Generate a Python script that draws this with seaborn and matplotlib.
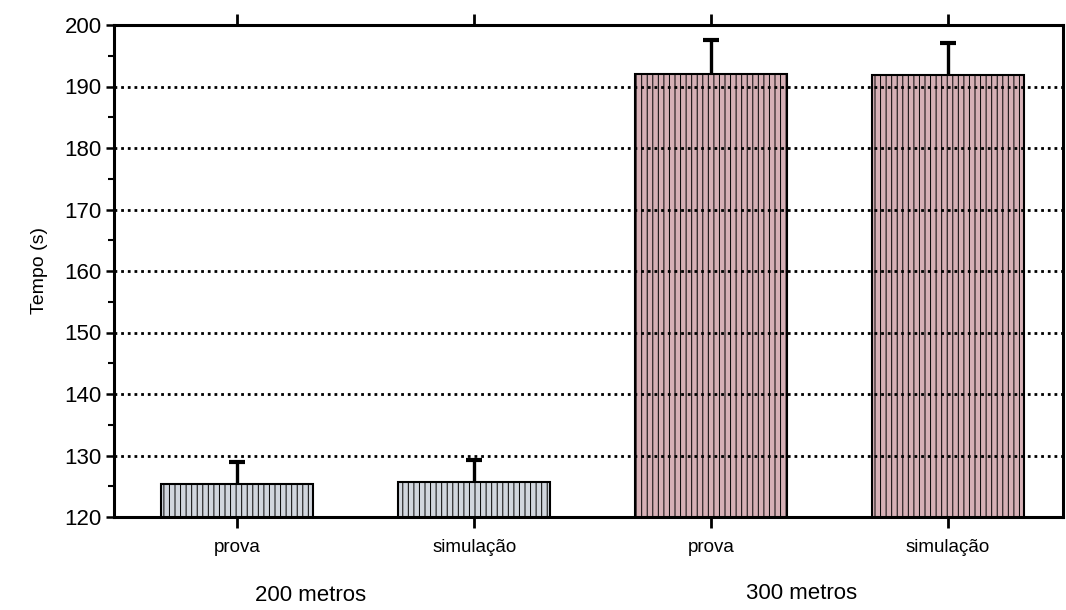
import matplotlib
matplotlib.use("Agg")
import matplotlib.pyplot as plt
import seaborn as sns
import pandas as pd
import numpy as np
from matplotlib.ticker import MultipleLocator

# ---- data ----
groups = ["200 metros", "200 metros", "300 metros", "300 metros"]
conditions = ["prova", "simulação", "prova", "simulação"]
means = [125.4, 125.7, 192.1, 191.9]
upper_err = [3.5, 3.5, 5.5, 5.1]
bar_ids = ["b1", "b2", "b3", "b4"]

sns.set_theme(style="white")
plt.rcParams['font.family'] = ['Liberation Sans', 'DejaVu Sans']
plt.rcParams['hatch.linewidth'] = 0.7
plt.rcParams['text.color'] = 'black'
plt.rcParams['axes.labelcolor'] = 'black'
plt.rcParams['xtick.color'] = 'black'
plt.rcParams['ytick.color'] = 'black'

df = pd.DataFrame({"id": bar_ids, "tempo": means, "grupo": groups, "cond": conditions})

fig = plt.figure(figsize=(10.66, 6.10), dpi=100)
ax = fig.add_axes([114/1066, 1 - 517/610, (1063 - 114)/1066, (517 - 25)/610])

palette = {"200 metros": "#cfd6e0", "300 metros": "#dcaab2"}
sns.barplot(data=df, x="id", y="tempo", hue="grupo", palette=palette, dodge=False,
            width=0.64, edgecolor="black", linewidth=1.5, legend=False, ax=ax, zorder=2)

hatch_cols = {"200 metros": "#9fadc4", "300 metros": "#c27c88"}
for patch in ax.patches:
    fc = patch.get_facecolor()
    key = "200 metros" if fc[2] > fc[0] else "300 metros"
    patch.set_hatch("|||")
    try:
        patch.set_hatchcolor(hatch_cols[key])
    except Exception:
        pass
    patch.set_edgecolor("black")

xpos = np.arange(len(means))
eb = ax.errorbar(xpos, means, yerr=[np.zeros(len(means)), upper_err], fmt="none",
                 ecolor="black", elinewidth=2.4, capsize=5.5, capthick=3, zorder=3)
# hide the cap at the bar top (lower cap), keep only the upper cap
caplines = eb[1]
if len(caplines) == 2:
    caplines[0].set_visible(False)

ax.set_ylim(120, 200)
ax.set_xlim(-0.52, 3.485)
ax.yaxis.set_major_locator(MultipleLocator(10))
ax.yaxis.set_minor_locator(MultipleLocator(5))
for y in range(130, 200, 10):
    ax.axhline(y, color="black", linestyle=(0, (1, 1.4)), linewidth=2.0, zorder=4)

ax.set_xticks(xpos)
ax.set_xticklabels(conditions, fontsize=13.5)
ax.tick_params(axis="y", which="major", direction="out", length=6, width=1.8, labelsize=16, pad=3, left=True)
ax.tick_params(axis="y", which="minor", direction="out", length=4, width=1.5, left=True)
ax.tick_params(axis="x", which="major", direction="out", length=8, width=2, bottom=True, top=True, pad=8)
ax.set_xlabel("")
ax.set_ylabel("Tempo (s)", fontsize=14, labelpad=12)

for s in ax.spines.values():
    s.set_visible(True)
    s.set_color("black")
    s.set_linewidth(2.2)

ax.text(0.31, -0.16, "200 metros", transform=ax.get_xaxis_transform(), ha="center", va="center", fontsize=16)
ax.text(2.38, -0.155, "300 metros", transform=ax.get_xaxis_transform(), ha="center", va="center", fontsize=16)

fig.savefig("out.png", dpi=100, facecolor="white")
